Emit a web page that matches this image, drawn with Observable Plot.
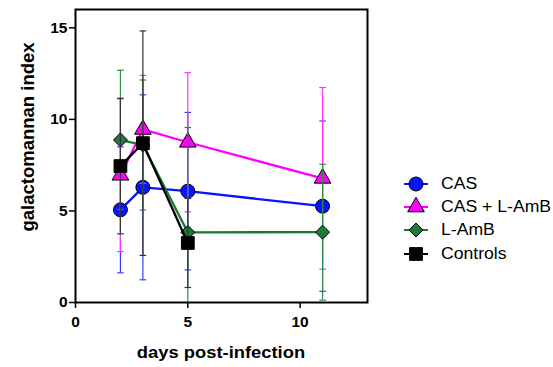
<!DOCTYPE html>
<html>
<head>
<meta charset="utf-8">
<script src="https://cdn.jsdelivr.net/npm/d3@7"></script>
<script src="https://cdn.jsdelivr.net/npm/@observablehq/plot@0.6"></script>
<style>
  html, body { margin: 0; padding: 0; background: #fff; }
  #wrap { position: relative; width: 553px; height: 367px; overflow: hidden; font-family: "Liberation Sans", Arial, sans-serif; }
  #wrap svg.plot { position: absolute; left: 0; top: 0; }
  .axlabel { position: absolute; font-weight: bold; white-space: nowrap; color: #000; text-align: center; }
  #legend { position: absolute; left: 402px; top: 172px; font-size: 16px; }
  .lrow { display: flex; align-items: center; height: 23.4px; white-space: nowrap; }
  .lrow svg { margin-right: 11px; }
  .lrow span { display: inline-block; transform: scaleX(1.1); transform-origin: left center; }
</style>
</head>
<body>
<div id="wrap"></div>
<script>
// ---- data ----
const seriesNames = ["CAS", "CAS + L-AmB", "L-AmB", "Controls"];
const seriesColors = ["#0a14ff", "#ff00ff", "#1d7a3a", "#000000"];
const barColors = ["#3040ff", "#ff30ff", "#2e8a4c", "#333333"];
const seriesSymbols = ["circle", "triangle", "diamond2", "square"];
const seriesR = [7, 6.2, 6.3, 7.2];

const casDays = [2, 3, 5, 11];
const casMean = [5.06, 6.29, 6.08, 5.26];
const casSD = [3.44, 5.05, 4.3, 4.65];

const comboDays = [2, 3, 5, 11];
const comboMean = [6.95, 9.45, 8.75, 6.78];
const comboSD = [4.17, 2.95, 3.8, 4.96];

const lambDays = [2, 3, 5, 11];
const lambMean = [8.88, 8.6, 3.83, 3.84];
const lambSD = [3.8, 3.55, 5.73, 3.71];

const ctrlDays = [2, 3, 5];
const ctrlMean = [7.45, 8.7, 3.25];
const ctrlSD = [3.7, 6.13, 2.43];

const xTicks = [0, 5, 10];
const yTicks = [0, 5, 10, 15];

// ---- build table ----
const groups = [
  [casDays, casMean, casSD],
  [comboDays, comboMean, comboSD],
  [lambDays, lambMean, lambSD],
  [ctrlDays, ctrlMean, ctrlSD]
];
const tables = groups.map(([d, m, s], i) =>
  d.map((day, j) => ({series: seriesNames[i], day, mean: m[j], lo: m[j] - s[j], hi: m[j] + s[j]}))
);

const capSymbol = {
  draw(ctx, size) {
    const w = Math.sqrt(size / Math.PI);
    ctx.moveTo(-w, 0);
    ctx.lineTo(w, 0);
  }
};

const marks = [];
tables.forEach((rows, i) => {
  const col = seriesColors[i], bcol = barColors[i];
  marks.push(
    Plot.ruleX(rows, {x: "day", y1: "lo", y2: "hi", stroke: bcol, strokeWidth: 1.2, clip: true}),
    Plot.dot(rows.filter(r => r.hi <= 16), {x: "day", y: "hi", symbol: capSymbol, r: 3.3, stroke: bcol, strokeWidth: 1.2, fill: "none"}),
    Plot.dot(rows.filter(r => r.lo >= 0), {x: "day", y: "lo", symbol: capSymbol, r: 3.3, stroke: bcol, strokeWidth: 1.2, fill: "none"}),
    Plot.line(rows, {x: "day", y: "mean", stroke: col, strokeWidth: 2.3}),
    Plot.dot(rows, {x: "day", y: "mean", symbol: seriesSymbols[i], r: seriesR[i], fill: col, stroke: "#000", strokeWidth: 1})
  );
});

const chart = Plot.plot({
  width: 553,
  height: 367,
  marginLeft: 75,
  marginRight: 186,
  marginTop: 9,
  marginBottom: 65,
  style: {fontFamily: "Liberation Sans, Arial, sans-serif", background: "transparent"},
  x: {domain: [0, 13]},
  y: {domain: [0, 16]},
  marks: [
    Plot.axisX({ticks: xTicks, tickSize: 6, tickPadding: 7, label: null, fontSize: 15.5, fontWeight: "bold", strokeWidth: 1.5}),
    Plot.axisY({ticks: yTicks, tickSize: 6, tickPadding: 2, label: null, fontSize: 15.5, fontWeight: "bold", strokeWidth: 1.5}),
    ...marks,
    Plot.frame({stroke: "#000", strokeWidth: 2})
  ]
});
chart.classList.add("plot");
const wrap = document.getElementById("wrap");
wrap.appendChild(chart);

// axis labels
const yl = document.createElement("div");
yl.className = "axlabel";
yl.textContent = "galactomannan index";
yl.style.fontSize = "18.5px";
yl.style.width = "260px";
yl.style.height = "22px";
yl.style.lineHeight = "22px";
yl.style.left = (28 - 130) + "px";
yl.style.top = (137 - 11) + "px";
yl.style.transform = "rotate(-90deg)";
wrap.appendChild(yl);

const xl = document.createElement("div");
xl.className = "axlabel";
xl.textContent = "days post-infection";
xl.style.fontSize = "17px";
xl.style.width = "260px";
xl.style.height = "22px";
xl.style.lineHeight = "22px";
xl.style.left = (221 - 130) + "px";
xl.style.top = (353 - 11) + "px";
xl.style.transform = "scaleX(1.08)";
wrap.appendChild(xl);

// legend
const legend = document.createElement("div");
legend.id = "legend";
seriesNames.forEach((name, i) => {
  const row = document.createElement("div");
  row.className = "lrow";
  const s = d3.create("svg").attr("width", 28).attr("height", 20);
  s.append("line").attr("x1", 2).attr("x2", 26).attr("y1", 10).attr("y2", 10)
    .attr("stroke", seriesColors[i]).attr("stroke-width", 2);
  const sym = {circle: d3.symbolCircle, triangle: d3.symbolTriangle, diamond2: d3.symbolDiamond2, square: d3.symbolSquare}[seriesSymbols[i]];
  const r = seriesR[i];
  s.append("path").attr("transform", "translate(14,10)")
    .attr("d", d3.symbol(sym, Math.PI * r * r)())
    .attr("fill", seriesColors[i]).attr("stroke", "#000").attr("stroke-width", 1);
  row.appendChild(s.node());
  const t = document.createElement("span");
  t.textContent = name;
  row.appendChild(t);
  legend.appendChild(row);
});
wrap.appendChild(legend);
</script>
</body>
</html>
